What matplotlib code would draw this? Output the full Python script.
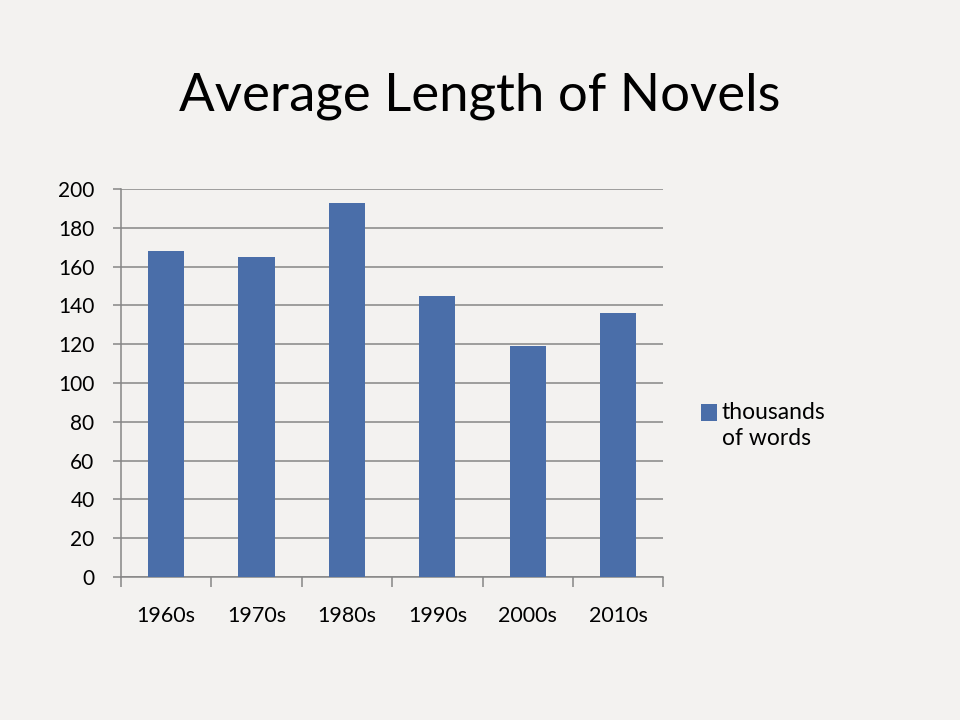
import matplotlib
matplotlib.use("Agg")
import matplotlib.pyplot as plt
import numpy as np

# Data
decades = ["1960s", "1970s", "1980s", "1990s", "2000s", "2010s"]
words_k = [168, 165, 193, 145, 119, 136]
y_ticks = [0, 20, 40, 60, 80, 100, 120, 140, 160, 180, 200]

BG = "#f3f2f0"
BAR = "#4a6ea9"
GRID = "#868686"

plt.rcParams["font.family"] = ["Lato", "DejaVu Sans"]

fig = plt.figure(figsize=(9.6, 7.2), dpi=100, facecolor=BG)
ax = fig.add_axes([0.126, 0.1986, 0.565, 0.5389], facecolor=BG)

x = np.arange(len(decades))
ax.bar(x, words_k, width=0.4, color=BAR, label="thousands\nof words", zorder=3)

ax.set_xlim(-0.5, len(decades) - 0.5)
ax.set_ylim(0, 200)
ax.set_yticks(y_ticks)
ax.yaxis.grid(True, color=GRID, linewidth=1.1, zorder=0)

# category labels centred on bars, tick marks at category boundaries
ax.set_xticks(x)
ax.set_xticklabels(decades, fontsize=15.5)
ax.tick_params(axis="x", length=0, pad=21)
ax.set_xticks(np.arange(-0.5, len(decades)), minor=True)
ax.tick_params(axis="x", which="minor", length=7, color=GRID, width=1.1)
ax.tick_params(axis="y", length=6, color=GRID, width=1.1, labelsize=15, pad=13)

for side in ["top", "right"]:
    ax.spines[side].set_visible(False)
for side in ["left", "bottom"]:
    ax.spines[side].set_color(GRID)
    ax.spines[side].set_linewidth(1.1)

leg = ax.legend(loc="center left", bbox_to_anchor=(1.053, 0.39), frameon=False,
                fontsize=16.5, handlelength=0.7, handleheight=0.75,
                handletextpad=0.2, borderaxespad=0)
for t in leg.get_texts():
    t.set_linespacing(1.3)
# square sits beside the first line of the label, like the original
h = leg.legend_handles[0]
h.set_y(h.get_y() + 10)

fig.text(0.5, 0.866, "Average Length of Novels", ha="center", va="center",
         fontsize=38)

fig.savefig("out.png", dpi=100, facecolor=BG)
